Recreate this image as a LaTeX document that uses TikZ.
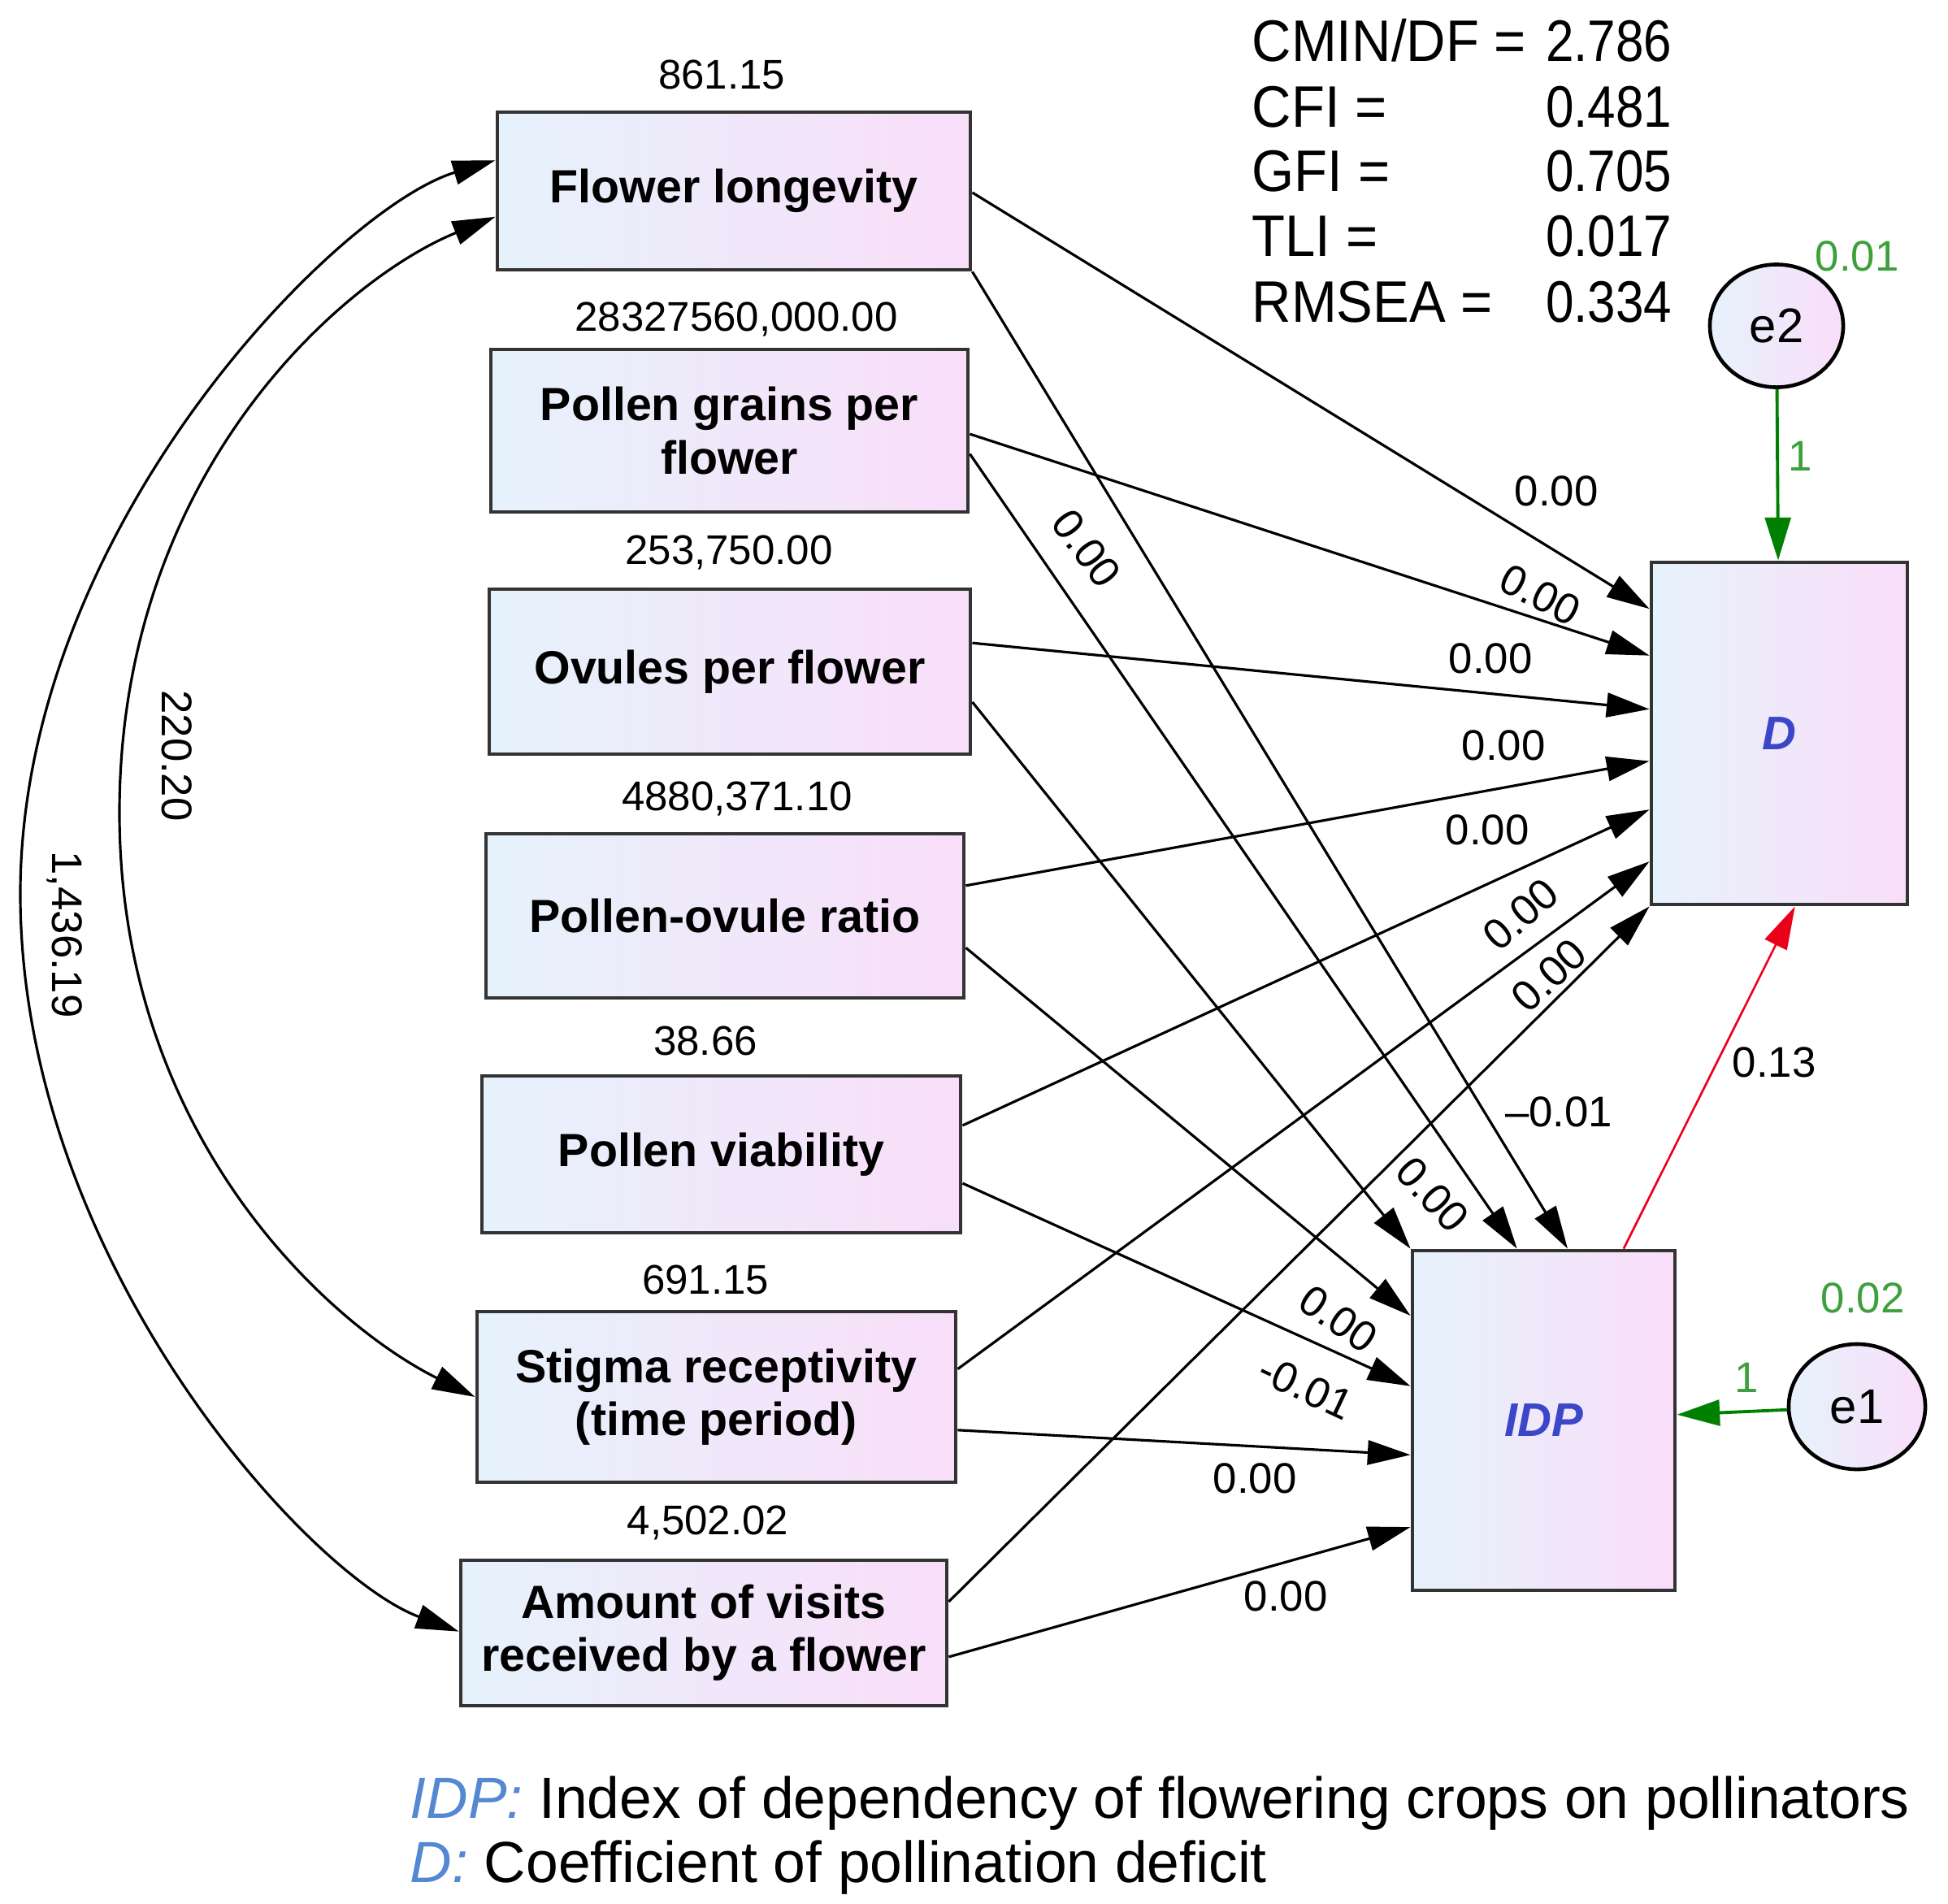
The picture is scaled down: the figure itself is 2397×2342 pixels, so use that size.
\documentclass[tikz,border=0pt]{standalone}
\usepackage{fontspec}
\setmainfont{Liberation Sans}
\newfontfamily\statfont[FakeStretch=0.93]{Liberation Sans}
\newfontfamily\statval[FakeStretch=0.86]{Liberation Sans}
\usetikzlibrary{arrows.meta,shapes.geometric,calc}
\definecolor{boxL}{RGB}{230,242,251}
\definecolor{boxR}{RGB}{249,222,249}
\definecolor{latblue}{RGB}{60,70,200}
\definecolor{legblue}{RGB}{85,135,210}
\definecolor{grn}{RGB}{0,128,0}
\definecolor{grnlab}{RGB}{60,160,60}
\definecolor{redarr}{RGB}{235,0,25}
\begin{document}
\begin{tikzpicture}[x=0.01cm,y=-0.01cm,
  box/.style={draw=black!80, line width=1.3pt, left color=boxL, right color=boxR,
    align=center, inner sep=0pt, font=\fontsize{16.3}{18.5}\selectfont\bfseries},
  latbox/.style={box, font=\fontsize{16.5}{18}\selectfont\bfseries\itshape, text=latblue},
  errnode/.style={ellipse, draw=black, line width=1.3pt, left color=boxL, right color=boxR,
    inner sep=0pt, font=\fontsize{17}{17}\selectfont},
  arr/.style={line width=0.9pt, -{Triangle[length=15pt,width=8.5pt]}},
  dbl/.style={line width=0.9pt, {Triangle[length=15pt,width=8.5pt]}-{Triangle[length=15pt,width=8.5pt]}},
  redpath/.style={line width=0.75pt, draw=redarr, -{Triangle[length=15pt,width=8.5pt,fill=redarr]}},
  grnpath/.style={line width=1.1pt, draw=grn, -{Triangle[length=15pt,width=9pt,fill=grn]}},
  lab/.style={font=\fontsize{15}{15}\selectfont, inner sep=0pt},
  toplab/.style={font=\fontsize{14.5}{14.5}\selectfont, inner sep=0pt},
  glab/.style={lab, text=grnlab},
  stat/.style={font=\fontsize{20.5}{20.5}\selectfont\statfont, inner sep=0pt},
  statv/.style={font=\fontsize{20.5}{20.5}\selectfont\statval, inner sep=0pt},
  leg/.style={font=\fontsize{20.3}{20.3}\selectfont, inner sep=0pt, anchor=base west}
]
\useasboundingbox (0,0) rectangle (2397,2342);
\fill[white] (0,0) rectangle (2397,2342);

% observed variables
\node[box, minimum width=5.82cm, minimum height=1.94cm] (fl) at (903,235) {Flower longevity};
\node[box, minimum width=5.87cm, minimum height=2.00cm] (pg) at (897.5,530) {Pollen grains per\\flower};
\node[box, minimum width=5.92cm, minimum height=2.03cm] (ov) at (898,826.5) {Ovules per flower};
\node[box, minimum width=5.88cm, minimum height=2.02cm] (po) at (892,1127) {Pollen-ovule ratio};
\node[box, minimum width=5.89cm, minimum height=1.93cm] (pv) at (887.5,1420.5) {Pollen viability};
\node[box, minimum width=5.89cm, minimum height=2.10cm] (sr) at (881.5,1719) {Stigma receptivity\\(time period)};
\node[box, minimum width=5.98cm, minimum height=1.79cm] (av) at (866,2009.5) {Amount of visits\\received by a flower};

% endogenous
\node[latbox, minimum width=3.15cm, minimum height=4.21cm] (D) at (2189.5,902.5) {D};
\node[latbox, minimum width=3.23cm, minimum height=4.18cm] (idp) at (1899.5,1748) {IDP};

% errors
\node[errnode, minimum width=1.64cm, minimum height=1.51cm] (e2) at (2186,401) {e2};
\node[errnode, minimum width=1.68cm, minimum height=1.54cm] (e1) at (2285,1731) {e1};

% numbers above boxes
\node[toplab] (n1) at (888,92) {861.15};
\node[toplab] (n2) at (906,393) {28327560,000.00};
\node[toplab] (n3) at (897,680) {253,750.00};
\node[toplab] (n4) at (907,983) {4880,371.10};
\node[toplab] (n5) at (868,1281) {38.66};
\node[toplab] (n6) at (868,1575) {691.15};
\node[toplab] (n7) at (871,1874) {4,502.02};

% fit statistics
\node[stat, anchor=base west] (s1) at (1540,75) {CMIN/DF =};
\node[statv, anchor=base east] (v1) at (2058,75) {2.786};
\node[stat, anchor=base west] (s2) at (1540,156) {CFI =};
\node[statv, anchor=base east] (v2) at (2058,156) {0.481};
\node[stat, anchor=base west] (s3) at (1540,235) {GFI =};
\node[statv, anchor=base east] (v3) at (2058,235) {0.705};
\node[stat, anchor=base west] (s4) at (1540,315) {TLI =};
\node[statv, anchor=base east] (v4) at (2058,315) {0.017};
\node[stat, anchor=base west] (s5) at (1540,396) {RMSEA =};
\node[statv, anchor=base east] (v5) at (2058,396) {0.334};

% anchor coordinates
\coordinate (fl1) at ($(fl.north east)!0.51!(fl.south east)$);
\coordinate (pg1) at ($(pg.north east)!0.52!(pg.south east)$);
\coordinate (pg2) at ($(pg.north east)!0.64!(pg.south east)$);
\coordinate (ov1) at ($(ov.north east)!0.33!(ov.south east)$);
\coordinate (ov2) at ($(ov.north east)!0.68!(ov.south east)$);
\coordinate (po1) at ($(po.north east)!0.32!(po.south east)$);
\coordinate (po2) at ($(po.north east)!0.69!(po.south east)$);
\coordinate (pv1) at ($(pv.north east)!0.32!(pv.south east)$);
\coordinate (pv2) at ($(pv.north east)!0.68!(pv.south east)$);
\coordinate (sr1) at ($(sr.north east)!0.34!(sr.south east)$);
\coordinate (sr2) at ($(sr.north east)!0.69!(sr.south east)$);
\coordinate (av1) at ($(av.north east)!0.29!(av.south east)$);
\coordinate (av2) at ($(av.north east)!0.66!(av.south east)$);

\coordinate (d1) at ($(D.north west)!0.14!(D.south west)$);
\coordinate (d2) at ($(D.north west)!0.275!(D.south west)$);
\coordinate (d3) at ($(D.north west)!0.43!(D.south west)$);
\coordinate (d4) at ($(D.north west)!0.58!(D.south west)$);
\coordinate (d5) at ($(D.north west)!0.72!(D.south west)$);
\coordinate (d6) at ($(D.north west)!0.87!(D.south west)$);
\coordinate (d8) at ($(D.south west)!0.56!(D.south east)$);

\coordinate (i1) at ($(idp.north west)!0.59!(idp.north east)$);
\coordinate (i2) at ($(idp.north west)!0.40!(idp.north east)$);
\coordinate (i8) at ($(idp.north west)!0.80!(idp.north east)$);
\coordinate (i4) at ($(idp.north west)!0.195!(idp.south west)$);
\coordinate (i5) at ($(idp.north west)!0.40!(idp.south west)$);
\coordinate (i6) at ($(idp.north west)!0.60!(idp.south west)$);
\coordinate (i7) at ($(idp.north west)!0.81!(idp.south west)$);

\coordinate (flw1) at ($(fl.north west)!0.31!(fl.south west)$);
\coordinate (flw2) at ($(fl.north west)!0.66!(fl.south west)$);
\coordinate (avw) at ($(av.north west)!0.49!(av.south west)$);
\coordinate (om) at (25,1100);
\coordinate (im) at (147,1000);

% paths to D
\draw[arr] (fl1) -- (d1);
\draw[arr] (pg1) -- (d2);
\draw[arr] (ov1) -- (d3);
\draw[arr] (po1) -- (d4);
\draw[arr] (pv1) -- (d5);
\draw[arr] (sr1) -- (d6);
\draw[arr] (av1) -- (D.south west);

% paths to IDP
\draw[arr] (fl.south east) -- (i1);
\draw[arr] (pg2) -- (i2);
\draw[arr] (ov2) -- (idp.north west);
\draw[arr] (po2) -- (i4);
\draw[arr] (pv2) -- (i5);
\draw[arr] (sr2) -- (i6);
\draw[arr] (av2) -- (i7);

% IDP -> D
\draw[redpath] (i8) -- (d8);

% errors
\draw[grnpath] (e2) -- (D);
\draw[grnpath] (e1) -- (idp);

% covariances
\draw[dbl] (flw1) .. controls (417,255) and (25,650) .. (om) .. controls (25,1550) and (379,1939) .. (avw);
\draw[dbl] (flw2) .. controls (424,342) and (147,580) .. (im) .. controls (147,1400) and (407,1631) .. (sr.west);

% path labels
\node[lab] (l1) at (1915,604) {0.00};
\node[lab, rotate=-27] (l2) at (1895,732) {0.00};
\node[lab] (l3) at (1834,810) {0.00};
\node[lab] (l4) at (1850,917) {0.00};
\node[lab] (l5) at (1830,1021) {0.00};
\node[lab, rotate=41] (l6) at (1871,1125) {0.00};
\node[lab, rotate=43] (l7) at (1906,1200) {0.00};
\node[lab] (m1) at (1918,1368) {\textendash 0.01};
\node[lab, rotate=-53] (m2) at (1337,675) {0.00};
\node[lab, rotate=-47] (m3) at (1763,1470) {0.00};
\node[lab, rotate=-35] (m4) at (1647,1623) {0.00};
\node[lab, rotate=-25] (m5) at (1607,1707) {-0.01};
\node[lab] (m6) at (1544,1819) {0.00};
\node[lab] (m7) at (1582,1964) {0.00};
\node[lab] (r1) at (2183,1307) {0.13};
\node[lab, rotate=-90] (c1) at (218,930) {220.20};
\node[lab, rotate=-90] (c2) at (80,1150) {1,436.19};

% green labels
\node[glab] (g1) at (2285,315) {0.01};
\node[glab] (g2) at (2215,561) {1};
\node[glab] (g3) at (2292,1597) {0.02};
\node[glab] (g4) at (2149,1695) {1};

% legend
\node[leg] (leg1) at (504,2237) {\textcolor{legblue}{\itshape IDP:} Index of dependency of flowering crops on pollinators};
\node[leg] (leg2) at (504,2316) {\textcolor{legblue}{\itshape D:} Coefficient of pollination deficit};
\end{tikzpicture}
\end{document}
